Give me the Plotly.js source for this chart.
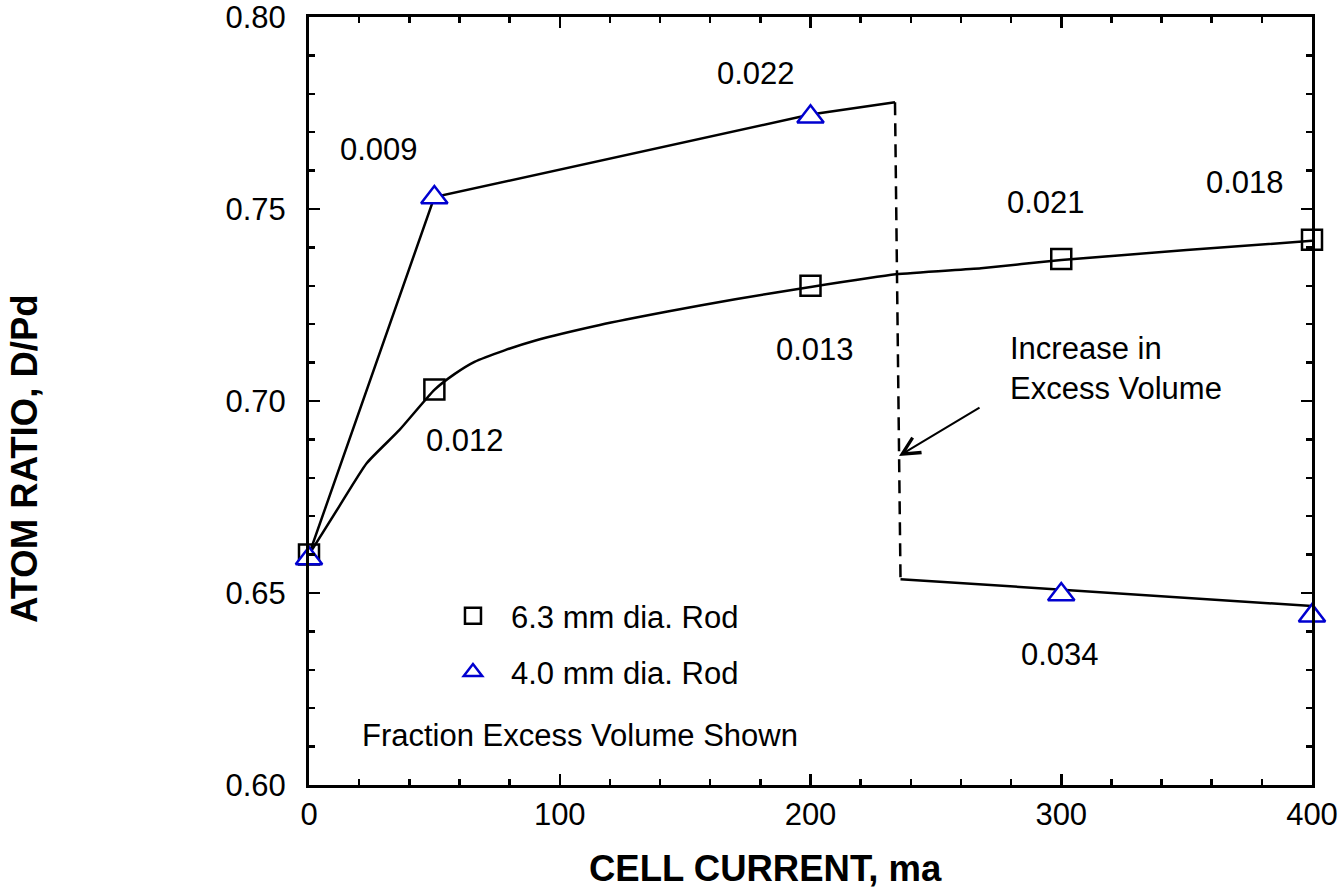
<!DOCTYPE html>
<html>
<head>
<meta charset="utf-8">
<script src="https://cdn.plot.ly/plotly-3.0.1.min.js"></script>
<style>
  html, body { margin: 0; padding: 0; background: #fff; }
  #chart { width: 1343px; height: 890px; }
</style>
</head>
<body>
<div id="chart"></div>
<script>
// measured points: cell current (ma) vs atom ratio D/Pd
const current = [0, 50, 200, 300, 400];
const rod63 = [0.660, 0.703, 0.730, 0.737, 0.742];
const rod40 = [0.659, 0.753, 0.774, 0.6496, 0.6441];

// hand drawn curve through the 6.3 mm rod points
const curveX = [0, 12, 23, 36, 50, 58, 66, 78, 90, 116, 143, 170, 200, 234, 268, 300, 350, 400];
const curveY = [0.660, 0.6725, 0.6838, 0.6924, 0.7029, 0.7070, 0.7102, 0.7132, 0.7157, 0.7198,
                0.7233, 0.7265, 0.7297, 0.7330, 0.7346, 0.7367, 0.7393, 0.7417];

// 4.0 mm rod: rise, drop (dashed), lower branch
const upperX = [0, 50, 200, 233.7];
const upperY = [0.660, 0.7531, 0.7746, 0.7778];
const dropX = [233.7, 235.9];
const dropY = [0.7778, 0.6536];
const lowerX = [235.9, 400];
const lowerY = [0.6536, 0.6466];

// fraction excess volume written next to points
const fractions = ['0.009', '0.022', '0.012', '0.013', '0.021', '0.018', '0.034'];

const FONT = 'Liberation Sans, Arial, Helvetica, sans-serif';
const lineStyle = { color: '#000', width: 2.5 };

let traces = [
    { x: curveX, y: curveY, mode: 'lines', line: { ...lineStyle, shape: 'spline', smoothing: 0.5 }, showlegend: false, hoverinfo: 'skip' },
    { x: upperX, y: upperY, mode: 'lines', line: lineStyle, showlegend: false, hoverinfo: 'skip' },
    { x: dropX, y: dropY, mode: 'lines', line: { color: '#000', width: 2.5, dash: '13px,8px' }, showlegend: false, hoverinfo: 'skip' },
    { x: lowerX, y: lowerY, mode: 'lines', line: lineStyle, showlegend: false, hoverinfo: 'skip', cliponaxis: false },
    {
        x: current, y: rod63, mode: 'markers', name: '6.3 mm dia. Rod', legendgroup: 'a', cliponaxis: false,
        marker: { symbol: 'square-open', size: 20, color: '#000', line: { color: '#000', width: 2.5 } }
    },
    {
        x: current, y: rod40, mode: 'markers', name: '4.0 mm dia. Rod', legendgroup: 'b', cliponaxis: false,
        marker: { symbol: 'triangle-up', size: 23, color: '#fff', line: { color: '#0000d0', width: 2.5 } }
    }
];

// label spots (data coords) for the fraction values
const fracPos = [[28.1, 0.7654], [178.3, 0.7853], [62.3, 0.6896], [201.6, 0.7135],
                 [293.9, 0.7517], [373.3, 0.757], [299.5, 0.6339]];

let annotations = fractions.map((t, i) => ({
    text: t, x: fracPos[i][0], y: fracPos[i][1], xref: 'x', yref: 'y',
    showarrow: false, xanchor: 'center', yanchor: 'middle',
    font: { family: FONT, size: 31, color: '#000' }
}));

annotations.push(
    {
        text: 'Increase in<br>Excess Volume', x: 278.8, y: 0.7085, xref: 'x', yref: 'y',
        showarrow: false, xanchor: 'left', yanchor: 'middle', align: 'left',
        font: { family: FONT, size: 31, color: '#000' }
    },
    {
        text: '', x: 235.3, y: 0.6857, ax: 268.0, ay: 0.6985, axref: 'x', ayref: 'y', xref: 'x', yref: 'y',
        showarrow: true, arrowhead: 5, arrowsize: 1.7, arrowwidth: 2, arrowcolor: '#000', standoff: 0
    },
    {
        text: 'Fraction Excess Volume Shown', x: 20.3, y: 0.613, xref: 'x', yref: 'y',
        showarrow: false, xanchor: 'left', yanchor: 'middle',
        font: { family: FONT, size: 31, color: '#000' }
    },
    {
        text: '<b>CELL CURRENT, ma</b>', x: 0.4556, y: -0.109, xref: 'paper', yref: 'paper',
        showarrow: false, xanchor: 'center', yanchor: 'middle',
        font: { family: FONT, size: 36.5, color: '#000' }
    },
    {
        text: '<b>ATOM RATIO, D/Pd</b>', x: -0.2832, y: 0.4245, xref: 'paper', yref: 'paper',
        showarrow: false, xanchor: 'center', yanchor: 'middle', textangle: -90,
        font: { family: FONT, size: 36.5, color: '#000' }
    }
);

const axisCommon = {
    showline: true, linecolor: '#000', linewidth: 3, mirror: 'allticks',
    ticks: 'inside', ticklen: 11, tickwidth: 2.5, tickcolor: '#000',
    showgrid: false, zeroline: false, ticklabeloverflow: 'allow',
    tickfont: { family: FONT, size: 31, color: '#000' }
};

let layout = {
    width: 1343, height: 890,
    margin: { l: 309, r: 31, t: 17, b: 105 },
    paper_bgcolor: '#fff', plot_bgcolor: '#fff',
    font: { family: FONT, color: '#000' },
    xaxis: {
        ...axisCommon, range: [0, 400], tick0: 0, dtick: 100, ticklabelstandoff: 0,
        minor: { dtick: 20, ticks: 'inside', ticklen: 6, tickwidth: 2.5, tickcolor: '#000' }
    },
    yaxis: {
        ...axisCommon, range: [0.6, 0.8], tick0: 0.6, dtick: 0.05, tickformat: '.2f', ticklabelstandoff: 14,
        minor: { dtick: 0.01, ticks: 'inside', ticklen: 6, tickwidth: 2.5, tickcolor: '#000' }
    },
    showlegend: true,
    legend: {
        x: 0.1256, y: 0.2552, xanchor: 'left', yanchor: 'top',
        bgcolor: 'rgba(0,0,0,0)', borderwidth: 0, itemwidth: 66,
        traceorder: 'grouped', tracegroupgap: 13,
        font: { family: FONT, size: 31, color: '#000' }
    },
    annotations: annotations
};

Plotly.newPlot('chart', traces, layout, { displayModeBar: false, staticPlot: true });
</script>
</body>
</html>
